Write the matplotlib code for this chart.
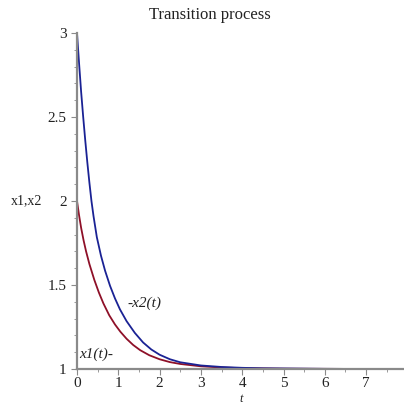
import matplotlib
matplotlib.use("Agg")
import matplotlib.pyplot as plt
from matplotlib.ticker import MultipleLocator

plt.rcParams['font.family'] = ['Liberation Serif', 'DejaVu Serif']

# values
t_x1 = [0.0, 0.05, 0.1, 0.16, 0.22, 0.3, 0.42, 0.53, 0.64, 0.78, 0.92, 1.05, 1.2,
        1.36, 1.53, 1.75, 2.0, 2.25, 2.5, 3.0, 3.5, 4.0, 5.0, 6.0, 7.0, 8.0]
x1 = [2.0, 1.915, 1.84, 1.765, 1.70, 1.625, 1.53, 1.455, 1.39, 1.32, 1.265, 1.222, 1.18,
      1.143, 1.112, 1.082, 1.058, 1.041, 1.03, 1.016, 1.009, 1.005, 1.002, 1.001, 1.0, 1.0]

t_x2 = [0.0, 0.05, 0.1, 0.15, 0.2, 0.25, 0.3, 0.35, 0.4, 0.48, 0.58, 0.68, 0.8, 0.92,
        1.04, 1.2, 1.4, 1.6, 1.8, 2.0, 2.25, 2.5, 3.0, 3.5, 4.0, 4.5, 5.0, 6.0, 7.0, 8.0]
x2 = [3.0, 2.82, 2.65, 2.5, 2.36, 2.23, 2.11, 2.0, 1.91, 1.785, 1.675, 1.585, 1.495, 1.42,
      1.355, 1.285, 1.215, 1.158, 1.116, 1.085, 1.058, 1.04, 1.021, 1.012, 1.007, 1.004, 1.003, 1.001, 1.0, 1.0]

title = "Transition process"
ylabel = "x1,x2"
xlabel = "t"

fig = plt.figure(figsize=(4.04, 4.05), dpi=100)
ax = fig.add_axes([77/404, 36/405, 327/404, 336/405])

ax.plot(t_x1, x1, color='#8e1028', lw=1.3)
ax.plot(t_x2, x2, color='#1a2294', lw=1.3)

ax.set_xlim(0, 327/41.3)
ax.set_ylim(1, 3)

for s in ['top', 'right']:
    ax.spines[s].set_visible(False)
for s in ['left', 'bottom']:
    ax.spines[s].set_color('#8a8a8a')
    ax.spines[s].set_linewidth(1.6)

ax.xaxis.set_major_locator(MultipleLocator(1))
ax.xaxis.set_minor_locator(MultipleLocator(0.5))
ax.yaxis.set_minor_locator(MultipleLocator(0.1))
ax.set_yticks([1, 1.5, 2, 2.5, 3])
ax.set_yticklabels(['1', '1.5', '2', '2.5', '3'])
ax.tick_params(which='both', colors='#8a8a8a', labelcolor='#222222', labelsize=11, direction='out')
ax.tick_params(which='major', length=4, width=0.8)
ax.tick_params(which='minor', length=2.5, width=0.6)
ax.tick_params(axis='x', pad=2)

ax.text(1.21, 1.393, "-x2(t)", style='italic', fontsize=11, ha='left', va='center', color='#222222')
ax.text(0.05, 1.09, "x1(t)-", style='italic', fontsize=11, ha='left', va='center', color='#222222')

fig.text(210/404, 1 - 15/405, title, ha='center', va='center', fontsize=12, color='#222222')
fig.text(27/404, 1 - 201/405, ylabel, ha='center', va='center', fontsize=10, color='#222222')
fig.text(241/404, 1 - 399/405, xlabel, ha='center', va='center', fontsize=9, style='italic', color='#222222')

fig.savefig('out.png', dpi=100)
